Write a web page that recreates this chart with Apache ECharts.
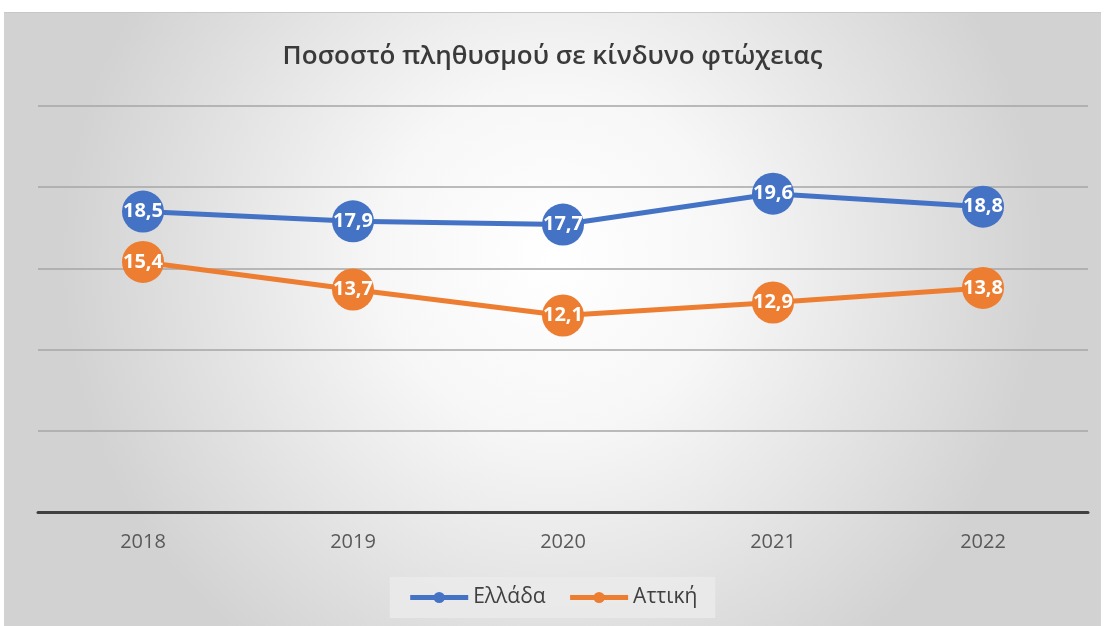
<!DOCTYPE html>
<html>
<head>
<meta charset="utf-8">
<script src="https://cdn.jsdelivr.net/npm/echarts@6/dist/echarts.min.js"></script>
<style>
  html, body { margin: 0; padding: 0; background: #fff; }
  #main { position: absolute; left: 4px; top: 12px; width: 1097px; height: 614px; border-top: 1px solid #c8c8c8; }
</style>
</head>
<body>
<div id="main"></div>
<script>
const years = ['2018', '2019', '2020', '2021', '2022'];
const ellada = [18.5, 17.9, 17.7, 19.6, 18.8];
const attiki = [15.4, 13.7, 12.1, 12.9, 13.8];

const chart = echarts.init(document.getElementById('main'));

const labelStyle = {
  show: true,
  position: 'inside',
  color: '#fff',
  fontWeight: 'bold',
  fontSize: 20,
  fontFamily: 'Open Sans',
  formatter: p => String(p.value).replace('.', ',')
};

const option = {
  backgroundColor: {
    type: 'radial', x: 0.5, y: 0.4, r: 0.8,
    colorStops: [
      { offset: 0, color: '#ffffff' },
      { offset: 0.35, color: '#f7f7f7' },
      { offset: 1, color: '#d2d2d2' }
    ]
  },
  title: {
    text: 'Ποσοστό πληθυσμού σε κίνδυνο φτώχειας',
    left: 'center',
    top: 26,
    textStyle: { color: '#3a3a3a', fontSize: 26, fontWeight: 600, fontFamily: 'Open Sans' }
  },
  legend: {
    bottom: 9,
    left: 'center',
    itemWidth: 58,
    itemHeight: 14,
    itemGap: 22,
    padding: [10, 18],
    backgroundColor: 'rgba(234,234,234,0.9)',
    textStyle: { color: '#404040', fontSize: 21, fontFamily: 'Open Sans' },
    lineStyle: { width: 5 },
    data: ['Ελλάδα', 'Αττική']
  },
  grid: { left: 34, right: 13, top: 93, bottom: 115 },
  xAxis: {
    type: 'category',
    data: years,
    boundaryGap: true,
    axisLine: { lineStyle: { color: '#404040', width: 3 } },
    axisTick: { show: false },
    axisLabel: { color: '#595959', fontSize: 20, fontFamily: 'Open Sans', margin: 20 }
  },
  yAxis: {
    type: 'value',
    min: 0, max: 25, interval: 5,
    axisLabel: { show: false },
    axisLine: { show: false },
    axisTick: { show: false },
    splitLine: { lineStyle: { color: '#a6a6a6', width: 1.5 } }
  },
  series: [
    {
      name: 'Ελλάδα', type: 'line', data: ellada,
      symbol: 'circle', symbolSize: 42,
      lineStyle: { color: '#4472C4', width: 5 },
      itemStyle: { color: '#4472C4' },
      label: labelStyle
    },
    {
      name: 'Αττική', type: 'line', data: attiki,
      symbol: 'circle', symbolSize: 42,
      lineStyle: { color: '#ED7D31', width: 5 },
      itemStyle: { color: '#ED7D31' },
      label: labelStyle
    }
  ]
};

chart.setOption(option);
</script>
</body>
</html>
